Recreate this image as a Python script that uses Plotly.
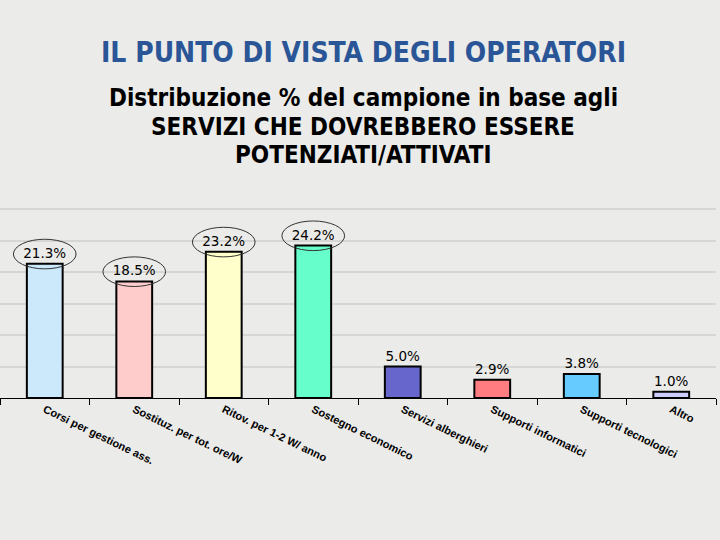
import plotly.graph_objects as go

categories = ['Corsi per gestione ass.', 'Sostituz. per tot. ore/W', 'Ritov. per 1-2 W/ anno',
              'Sostegno economico', 'Servizi alberghieri', 'Supporti informatici',
              'Supporti tecnologici', 'Altro']
values = [21.3, 18.5, 23.2, 24.2, 5.0, 2.9, 3.8, 1.0]
colors = ['#cce9fc', '#ffcccc', '#ffffcc', '#66ffcc', '#6666cc', '#ff7c80', '#66ccff', '#ccccff']
labels = ['%.1f%%' % v for v in values]
circled = [0, 1, 2, 3]

title = 'IL PUNTO DI VISTA DEGLI OPERATORI'
subtitle = ['Distribuzione % del campione in base agli',
            'SERVIZI CHE DOVREBBERO ESSERE',
            'POTENZIATI/ATTIVATI']

fig = go.Figure()

fig.add_trace(go.Bar(x=categories, y=values,
                     marker=dict(color=colors, line=dict(color='black', width=2)),
                     width=0.4,
                     text=labels,
                     textposition='outside',
                     constraintext='none',
                     textfont=dict(family='DejaVu Sans', size=13.5, color='black'),
                     cliponaxis=False,
                     hoverinfo='x+y'))

# ellipses round the first labels
shapes = []
for i in circled:
    shapes.append(dict(type='circle', xref='x', yref='y',
                       x0=i - 0.35, x1=i + 0.35,
                       y0=values[i] - 0.8, y1=values[i] + 3.9,
                       line=dict(color='#333333', width=1)))

# top border of the plot area (30% line)
shapes.append(dict(type='line', xref='paper', yref='paper', x0=0, x1=1, y0=1, y1=1,
                   line=dict(color='#d6d6d4', width=2), layer='below'))

annotations = [dict(text='<b>' + title + '</b>', xref='paper', yref='paper',
                    x=0.507, y=(398 - 52) / 189, yanchor='middle', showarrow=False,
                    font=dict(family='DejaVu Sans Condensed', size=28, color='#2a5597'))]
sub_y = [98, 127, 155]
for line, py in zip(subtitle, sub_y):
    annotations.append(dict(text='<b>' + line + '</b>', xref='paper', yref='paper',
                            x=0.507, y=(398 - py) / 189, yanchor='middle', showarrow=False,
                            font=dict(family='DejaVu Sans Condensed', size=24, color='black')))

fig.update_layout(
    width=720, height=540,
    margin=dict(l=0, r=4, t=209, b=142),
    paper_bgcolor='#ebebe9',
    plot_bgcolor='#ebebe9',
    showlegend=False,
    bargap=0.6,
    shapes=shapes,
    annotations=annotations,
    xaxis=dict(type='category', showline=True, linecolor='black', linewidth=1,
               ticks='outside', tickson='boundaries', ticklen=6, tickcolor='black',
               tickangle=26,
               tickfont=dict(family='Liberation Sans', size=11, color='black', weight='bold'),
               showgrid=False),
    yaxis=dict(range=[0, 30], dtick=5, showticklabels=False, showline=False,
               gridcolor='#d6d6d4', gridwidth=2, zeroline=False),
)

fig.write_html("out.html", config={'displayModeBar': False},
               post_script="document.body.style.margin='0';")
